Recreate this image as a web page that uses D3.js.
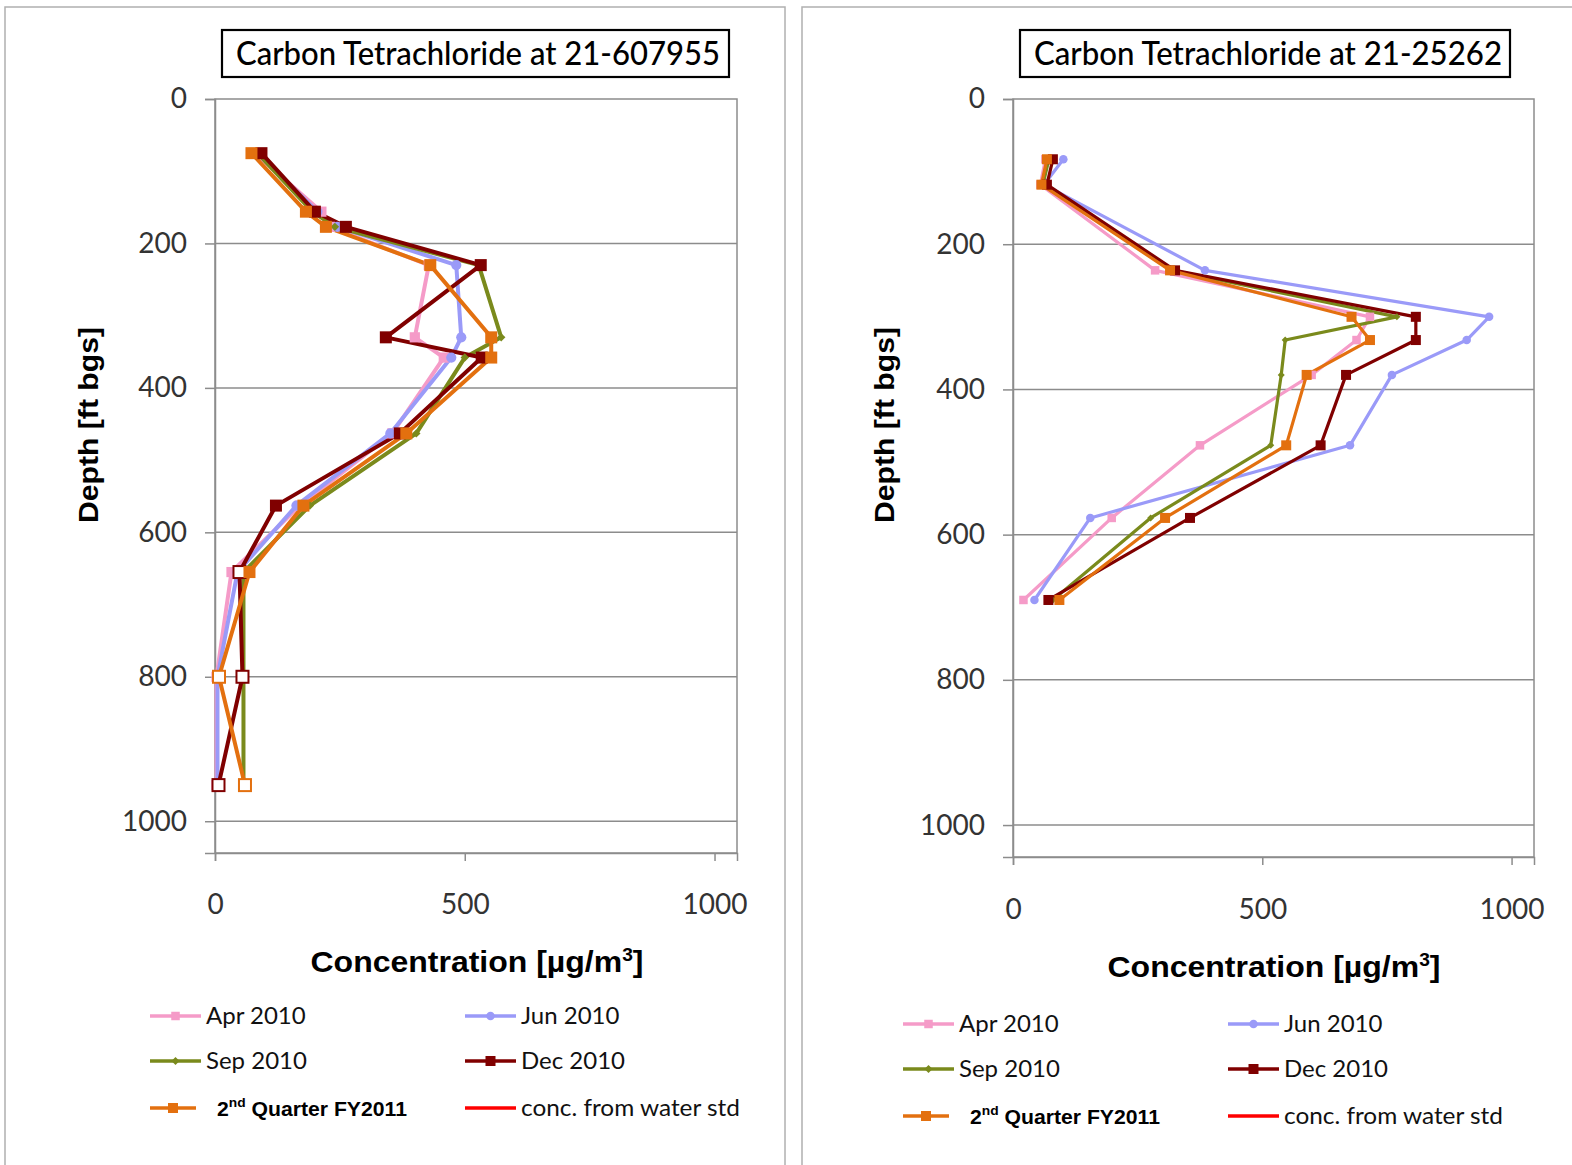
<!DOCTYPE html>
<html><head><meta charset="utf-8">
<script src="https://cdn.jsdelivr.net/npm/d3@7"></script>
<style>body{margin:0;background:#fff} svg{display:block}</style>
</head><body><svg id="chart" width="1572" height="1165"></svg>
<script>
// Carbon tetrachloride soil-gas profiles: depth (ft bgs) vs concentration (µg/m³)
const depths607955 = [75, 156, 177, 230, 330, 358, 463, 563, 655, 800, 950];
const apr607955 = [80, 213, 230, 428, 400, 458, 355, 170, 33, 3, 3];
const jun607955 = [85, 205, 245, 483, 493, 473, 351, 163, 45, 5, 5];
const sep607955 = [85, 195, 240, 528, 573, 500, 403, 190, 57, 57, 57];
const dec607955 = [93, 200, 262, 532, 342, 534, 370, 122, 49, 55, 7];
const q2607955 = [73, 182, 222, 431, 553, 553, 383, 177, 69, 8, 60];
// depths where the reported value is a non-detect (hollow marker)
const decHollow607955 = [655, 800, 950];
const q2Hollow607955 = [800, 950];

const depths25262 = [83, 118, 236, 300, 332, 380, 477, 577, 690];
const apr25262 = [65, 55, 285, 716, 689, 599, 375, 198, 21];
const jun25262 = [101, 62, 385, 955, 910, 760, 676, 155, 43];
const sep25262 = [72, 60, 320, 770, 546, 538, 517, 276, 80];
const dec25262 = [80, 68, 325, 808, 808, 668, 617, 355, 71];
const q225262 = [68, 57, 315, 679, 716, 589, 548, 305, 93];

const depthTicks = [0, 200, 400, 600, 800, 1000];
const concTicks = [0, 500, 1000];
const seriesNames = ["Apr 2010", "Jun 2010", "Sep 2010", "Dec 2010", "2nd Quarter FY2011"];
const waterStdName = "conc. from water std";
const titles = ["Carbon Tetrachloride at 21-607955", "Carbon Tetrachloride at 21-25262"];

// visual style per series
const styles = [
  {color: "#f59bc8", shape: "square", scale: 0.85},
  {color: "#9a9af8", shape: "circle", scale: 0.85},
  {color: "#7a8a1c", shape: "diamond", scale: 0.7},
  {color: "#800000", shape: "square", scale: 1},
  {color: "#e3700f", shape: "square", scale: 1}
];

const svg = d3.select("#chart");
const labelFont = "Lato, 'Open Sans', sans-serif";
const boldFont = "'Liberation Sans', Arial, sans-serif";

function marker(g, shape, size, color, hollow, cx, cy) {
  const h = size / 2;
  let el;
  if (shape === "circle") {
    el = g.append("circle").attr("cx", cx).attr("cy", cy).attr("r", h);
  } else if (shape === "diamond") {
    el = g.append("path").attr("d", `M${cx},${cy - h}L${cx + h},${cy}L${cx},${cy + h}L${cx - h},${cy}Z`);
  } else {
    el = g.append("rect").attr("x", cx - h).attr("y", cy - h).attr("width", size).attr("height", size);
  }
  if (hollow) el.attr("fill", "#fff").attr("stroke", color).attr("stroke-width", 2);
  else el.attr("fill", color);
}

function fitText(sel, width) {
  sel.attr("textLength", width).attr("lengthAdjust", "spacingAndGlyphs");
}

function drawPanel(p) {
  const g = svg.append("g");
  // panel frame
  g.append("rect").attr("x", p.frame[0]).attr("y", 7).attr("width", p.frame[1] - p.frame[0])
    .attr("height", 1200).attr("fill", "#fff").attr("stroke", "#b0b0b0").attr("stroke-width", 1.5);

  const x = d3.scaleLinear().domain([0, 1045]).range([p.plot.x0, p.plot.x1]);
  const y = d3.scaleLinear().domain([0, 1044]).range([p.plot.y0, p.plot.y1]);

  // title box
  g.append("rect").attr("x", p.titleBox[0]).attr("y", 30).attr("width", p.titleBox[1] - p.titleBox[0])
    .attr("height", 47).attr("fill", "#fff").attr("stroke", "#000").attr("stroke-width", 2.2);
  const t = g.append("text").attr("x", p.titleText[0]).attr("y", 65).attr("font-family", labelFont)
    .attr("font-size", 33).attr("font-weight", 500).attr("fill", "#000").text(p.title);
  fitText(t, p.titleText[1] - p.titleText[0]);

  // plot frame and gridlines
  g.append("rect").attr("x", p.plot.x0).attr("y", p.plot.y0).attr("width", p.plot.x1 - p.plot.x0)
    .attr("height", p.plot.y1 - p.plot.y0).attr("fill", "none").attr("stroke", "#8c8c8c").attr("stroke-width", 1.5);
  g.selectAll(".grid").data(depthTicks.filter(d => d > 0)).join("line")
    .attr("x1", p.plot.x0).attr("x2", p.plot.x1).attr("y1", d => y(d)).attr("y2", d => y(d))
    .attr("stroke", "#8c8c8c").attr("stroke-width", 1.5);

  // depth axis
  const ya = g.append("g").attr("transform", `translate(${p.plot.x0},0)`)
    .call(d3.axisLeft(y).tickValues(depthTicks).tickSize(10).tickPadding(18).tickFormat(d3.format("d")));
  ya.select(".domain").attr("stroke", "#8c8c8c").attr("stroke-width", 1.5);
  ya.selectAll(".tick line").attr("stroke", "#8c8c8c").attr("stroke-width", 1.5);
  ya.selectAll(".tick text").attr("font-family", labelFont).attr("font-size", 28).attr("fill", "#333");

  // concentration axis
  const xa = g.append("g").attr("transform", `translate(0,${p.plot.y1})`)
    .call(d3.axisBottom(x).tickValues(concTicks).tickSize(8).tickPadding(p.xPad).tickFormat(d3.format("d")));
  xa.select(".domain").attr("stroke", "#8c8c8c").attr("stroke-width", 1.5);
  xa.selectAll(".tick line").attr("stroke", "#8c8c8c").attr("stroke-width", 1.5);
  xa.selectAll(".tick text").attr("font-family", labelFont).attr("font-size", 28).attr("fill", "#333");

  // axis titles
  const yt = g.append("text").attr("transform", `translate(${p.yTitle[0]},${p.yTitle[1]}) rotate(-90)`)
    .attr("text-anchor", "middle").attr("font-family", boldFont).attr("font-weight", "bold")
    .attr("font-size", 28).attr("fill", "#000").text("Depth [ft bgs]");
  fitText(yt, 196);
  const xt = g.append("text").attr("x", p.xTitle[0]).attr("y", p.xTitle[1]).attr("text-anchor", "middle")
    .attr("font-family", boldFont).attr("font-weight", "bold").attr("font-size", 30).attr("fill", "#000");
  xt.append("tspan").text("Concentration  [\u00b5g/m");
  xt.append("tspan").attr("font-size", 18).attr("dy", -11).text("3");
  xt.append("tspan").attr("dy", 11).text("]");
  fitText(xt, 333);

  // series
  const line = d3.line().x(d => x(d.c)).y(d => y(d.d));
  p.series.forEach((vals, i) => {
    const st = styles[i];
    const pts = p.depths.map((d, k) => ({d, c: vals[k]}));
    g.append("path").datum(pts).attr("d", line).attr("fill", "none")
      .attr("stroke", st.color).attr("stroke-width", p.lw).attr("stroke-linejoin", "round");
  });
  p.series.forEach((vals, i) => {
    const st = styles[i];
    const hollowSet = p.hollow[i] || [];
    p.depths.forEach((d, k) => {
      marker(g, st.shape, p.ms * st.scale, st.color, hollowSet.includes(d), x(vals[k]), y(d));
    });
  });

  // legend
  const L = p.legend;
  const items = [
    {name: seriesNames[0], s: 0, col: 0, row: 0},
    {name: seriesNames[1], s: 1, col: 1, row: 0},
    {name: seriesNames[2], s: 2, col: 0, row: 1},
    {name: seriesNames[3], s: 3, col: 1, row: 1},
    {name: seriesNames[4], s: 4, col: 0, row: 2},
    {name: waterStdName, s: -1, col: 1, row: 2}
  ];
  items.forEach(it => {
    const lx = L.cols[it.col], ly = L.rows[it.row];
    const color = it.s >= 0 ? styles[it.s].color : "#ff0000";
    const len = it.s === 4 ? 46 : 51;
    g.append("line").attr("x1", lx).attr("x2", lx + len).attr("y1", ly).attr("y2", ly)
      .attr("stroke", color).attr("stroke-width", 3.5);
    if (it.s >= 0) marker(g, styles[it.s].shape, 10 * styles[it.s].scale + (it.s === 2 ? 1 : 0), color, false, lx + len / 2, ly);
    if (it.s === 4) {
      const tx = g.append("text").attr("x", lx + 67).attr("y", ly + 8).attr("font-family", boldFont)
        .attr("font-weight", "bold").attr("font-size", 20).attr("fill", "#000");
      tx.append("tspan").text("2");
      tx.append("tspan").attr("font-size", 13).attr("dy", -9).text("nd");
      tx.append("tspan").attr("dy", 9).text(" Quarter FY2011");
      fitText(tx, 190);
    } else {
      const tx = g.append("text").attr("x", lx + 56).attr("y", ly + 8).attr("font-family", labelFont)
        .attr("font-size", 24).attr("fill", "#111").text(it.name);
      if (it.s < 0) fitText(tx, 219);
    }
  });
}

drawPanel({
  frame: [5, 785], title: titles[0], titleBox: [222, 729], titleText: [236, 720],
  plot: {x0: 215, x1: 737, y0: 99, y1: 853}, xPad: 33,
  yTitle: [98, 425], xTitle: [477, 972],
  depths: depths607955, series: [apr607955, jun607955, sep607955, dec607955, q2607955],
  hollow: {3: decHollow607955, 4: q2Hollow607955},
  lw: 4, ms: 12,
  legend: {cols: [150, 465], rows: [1016, 1061, 1108]}
});
drawPanel({
  frame: [802, 1580], title: titles[1], titleBox: [1020, 1510], titleText: [1034, 1502],
  plot: {x0: 1013, x1: 1534, y0: 99, y1: 857}, xPad: 34,
  yTitle: [894, 425], xTitle: [1274, 977],
  depths: depths25262, series: [apr25262, jun25262, sep25262, dec25262, q225262],
  hollow: {},
  lw: 3.2, ms: 10,
  legend: {cols: [903, 1228], rows: [1024, 1069, 1116]}
});
</script></body></html>
